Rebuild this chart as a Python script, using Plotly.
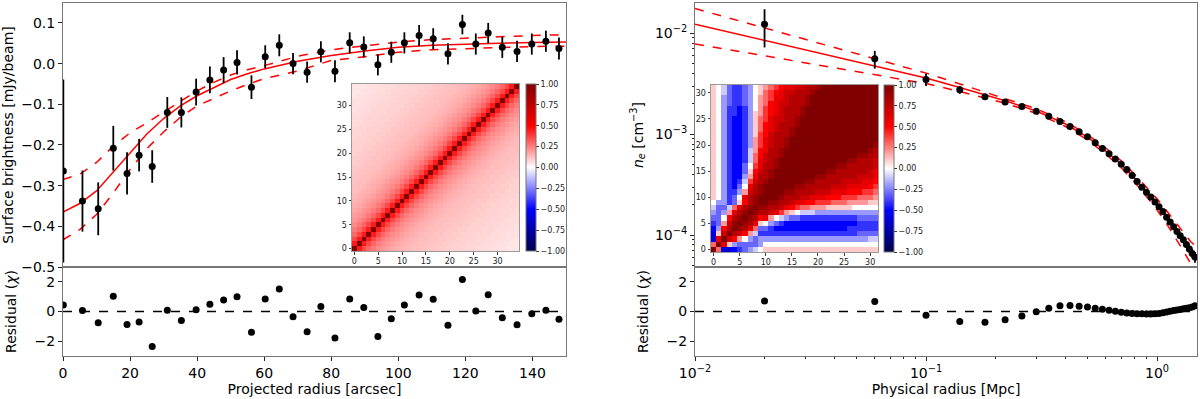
import plotly.graph_objects as go

# ---------------- left panel: surface brightness profile ----------------
sb_x = [0.1, 5.8, 10.5, 15.0, 19.1, 22.7, 26.6, 31.1, 35.3, 39.7, 43.8, 47.9,
        51.9, 56.2, 60.3, 64.5, 68.6, 72.8, 76.9, 81.1, 85.5, 89.7, 93.9, 97.9,
        101.8, 106.2, 110.4, 114.8, 119.1, 123.1, 126.8, 131.0, 135.4, 139.8, 144.0, 147.9]
sb_y = [-0.264, -0.338, -0.357, -0.208, -0.270, -0.225, -0.253, -0.120, -0.120, -0.070,
        -0.040, -0.016, 0.003, -0.058, 0.017, 0.045, 0.000, -0.021, 0.029, -0.019,
        0.051, 0.041, -0.003, 0.028, 0.051, 0.069, 0.061, 0.024, 0.096, 0.048,
        0.075, 0.040, 0.030, 0.048, 0.055, 0.037]
sb_err = [0.225, 0.075, 0.065, 0.055, 0.052, 0.040, 0.040, 0.038, 0.037, 0.033,
          0.033, 0.032, 0.030, 0.029, 0.028, 0.027, 0.026, 0.026, 0.026, 0.027,
          0.026, 0.026, 0.026, 0.026, 0.026, 0.026, 0.026, 0.026, 0.024, 0.026,
          0.025, 0.026, 0.026, 0.026, 0.026, 0.027]
sb_resid = [0.44, 0.07, -0.76, 1.02, -0.87, -0.71, -2.36, 0.09, -0.60, 0.11, 0.49, 0.78,
            1.00, -1.40, 0.84, 1.51, -0.36, -1.36, 0.33, -1.78, 0.84, 0.27, -1.69, -0.49,
            0.44, 1.11, 0.82, -0.93, 2.16, 0.04, 1.13, -0.42, -0.89, -0.16, 0.09, -0.53]

sb_model_x = [0, 5, 10, 15, 20, 25, 30, 35, 40, 45, 50, 55, 60, 70, 80, 90, 100,
              110, 120, 130, 140, 150]
sb_model = [-0.365, -0.344, -0.313, -0.266, -0.219, -0.173, -0.135, -0.104, -0.079,
            -0.058, -0.039, -0.025, -0.013, 0.006, 0.020, 0.031, 0.040, 0.045,
            0.048, 0.050, 0.052, 0.053]
sb_upper = [-0.285, -0.272, -0.243, -0.203, -0.170, -0.146, -0.119, -0.092, -0.067,
            -0.046, -0.028, -0.015, -0.005, 0.018, 0.034, 0.044, 0.053, 0.059,
            0.063, 0.066, 0.069, 0.071]
sb_lower = [-0.433, -0.408, -0.371, -0.318, -0.260, -0.209, -0.168, -0.132, -0.104,
            -0.086, -0.067, -0.051, -0.037, -0.018, 0.008, 0.017, 0.028, 0.034,
            0.037, 0.040, 0.042, 0.043]

# correlation vs. index offset (band of the left covariance inset)
corr_left_profile = [1.0, 0.45, 0.36, 0.30, 0.26, 0.23, 0.21, 0.19, 0.17, 0.16, 0.15,
                     0.14, 0.13, 0.13, 0.12, 0.12, 0.11, 0.11, 0.10, 0.10, 0.09, 0.09,
                     0.09, 0.08, 0.08, 0.08, 0.07, 0.07, 0.07, 0.06, 0.06, 0.06, 0.05,
                     0.05, 0.05]

# ---------------- right panel: density profile ----------------
ne_x = [0.02, 0.06, 0.10, 0.14, 0.18, 0.22, 0.26, 0.30, 0.34, 0.38, 0.42, 0.46,
        0.50, 0.54, 0.58, 0.62, 0.66, 0.70, 0.74, 0.78, 0.82, 0.86, 0.90, 0.94,
        0.98, 1.02, 1.06, 1.10, 1.14, 1.18, 1.22, 1.26, 1.30, 1.34, 1.38, 1.42, 1.46]
ne_y = [1.227e-2, 5.58e-3, 3.49e-3, 2.76e-3, 2.35e-3, 2.09e-3, 1.88e-3, 1.69e-3,
        1.51e-3, 1.34e-3, 1.19e-3, 1.06e-3, 9.44e-4, 8.24e-4, 7.24e-4, 6.42e-4,
        5.69e-4, 5.04e-4, 4.47e-4, 3.90e-4, 3.40e-4, 2.99e-4, 2.67e-4, 2.39e-4,
        2.13e-4, 1.91e-4, 1.72e-4, 1.51e-4, 1.35e-4, 1.21e-4, 1.09e-4, 9.85e-5,
        8.99e-5, 8.09e-5, 7.28e-5, 6.59e-5, 6.07e-5]
ne_relerr = [0.41, 0.20, 0.14, 0.09, 0.06, 0.05, 0.045, 0.04, 0.04, 0.04, 0.04, 0.04,
             0.04, 0.04, 0.04, 0.04, 0.04, 0.04, 0.04, 0.04, 0.04, 0.04, 0.04, 0.045,
             0.045, 0.045, 0.05, 0.05, 0.05, 0.055, 0.055, 0.06, 0.06, 0.07, 0.08,
             0.10, 0.12]
ne_resid = [0.70, 0.68, -0.25, -0.68, -0.72, -0.55, -0.30, -0.02, 0.22, 0.38, 0.40, 0.35,
            0.30, 0.22, 0.15, 0.08, 0.02, -0.05, -0.10, -0.13, -0.15, -0.16, -0.17, -0.17,
            -0.16, -0.13, -0.08, -0.03, 0.02, 0.06, 0.10, 0.14, 0.18, 0.22, 0.26, 0.30, 0.38]

ne_model_x = [0.01, 0.02, 0.06, 0.10, 0.14, 0.18, 0.22, 0.30, 0.40, 0.50, 0.60, 0.70,
              0.80, 0.90, 1.00, 1.10, 1.20, 1.30, 1.40, 1.46]
ne_model = [1.23e-2, 8.5e-3, 4.7e-3, 3.6e-3, 2.9e-3, 2.45e-3, 2.15e-3, 1.70e-3, 1.27e-3,
            9.35e-4, 6.8e-4, 5.05e-4, 3.67e-4, 2.70e-4, 2.03e-4, 1.51e-4, 1.14e-4,
            8.7e-5, 6.8e-5, 5.9e-5]
ne_upper = [1.76e-2, 1.13e-2, 5.6e-3, 4.03e-3, 3.15e-3, 2.6e-3, 2.27e-3, 1.79e-3, 1.34e-3,
            9.9e-4, 7.3e-4, 5.45e-4, 4.0e-4, 3.0e-4, 2.3e-4, 1.75e-4, 1.36e-4, 1.07e-4,
            8.6e-5, 7.9e-5]
ne_lower = [7.85e-3, 5.98e-3, 3.89e-3, 3.18e-3, 2.65e-3, 2.3e-3, 2.03e-3, 1.61e-3, 1.2e-3,
            8.8e-4, 6.35e-4, 4.65e-4, 3.35e-4, 2.42e-4, 1.78e-4, 1.30e-4, 9.5e-5, 7.0e-5,
            5.2e-5, 4.6e-5]

# right inset correlation matrix, lower triangle read row by row;
# letter index in LEVELS -> value -1.0 + 0.1 * index
LEVELS = "abcdefghijklmnopqrstu"
corr_right_rows = [
    "u",
    "nu",
    "equ",
    "elru",
    "fipsu",
    "ghmrtu",
    "hhkpstu",
    "ihimqstu",
    "jhhjnqstu",
    "kiighlpstu",
    "lkighkqstuu",
    "lkiggimrstuu",
    "lkigfhkqstuuu",
    "lkigfgjorstuuu",
    "lkigffimqsstuuu",
    "lkigffhlprstuuuu",
    "lkigffhkoqsstuuuu",
    "lkigffgjnqrstuuuuu",
    "lkigffgjnprsstuuuuu",
    "lkigffgjmpqsstuuuuuu",
    "lkigffgimoqrsstuuuuuu",
    "lkigffgimoqrsstuuuuuuu",
    "lkigffgiloprssstuuuuuuu",
    "lkigffgilnpqrsstuuuuuuuu",
    "lkigffgilnpqrssstuuuuuuuu",
    "lkigffgilnoqrrsstuuuuuuuuu",
    "lkiggfgilmopqrssstuuuuuuuuu",
    "lkiggfgikmopqrssstuuuuuuuuuu",
    "lkihgghikmnpqrrssstuuuuuuuuuu",
    "lkihgghikmnoqqrssstuuuuuuuuuuu",
    "lkjhgghiklnopqrrssstuuuuuuuuuuu",
    "lkjhgghiklmnopqqrrsstuuuuuuuuuuu",
]

RES_RANGE = [-3, 3]
FONT = "DejaVu Sans"
W, H = 1200, 399
SEISMIC = [[0.0, "rgb(0,0,77)"], [0.25, "rgb(0,0,255)"], [0.5, "rgb(255,255,255)"],
           [0.75, "rgb(255,0,0)"], [1.0, "rgb(128,0,0)"]]


def px_x(a, b):
    return [a / W, b / W]


def px_y(top, bottom):
    return [1 - bottom / H, 1 - top / H]


# build matrices from the read tables
n_l = len(corr_left_profile)
corr_left = [[corr_left_profile[abs(i - j)] for j in range(n_l)] for i in range(n_l)]

n_r = len(corr_right_rows)
corr_right = [[0.0] * n_r for _ in range(n_r)]
for i, row in enumerate(corr_right_rows):
    row = row.ljust(i + 1, row[-1])
    for j, ch in enumerate(row[:i + 1]):
        v = -1.0 + 0.1 * LEVELS.index(ch)
        corr_right[i][j] = v
        corr_right[j][i] = v

fig = go.Figure()

red_line = dict(color="red", width=1.5)
red_dash = dict(color="red", width=1.5, dash="dash")

# left main
fig.add_trace(go.Scatter(x=sb_model_x, y=sb_upper, mode="lines", line=red_dash,
                         xaxis="x", yaxis="y"))
fig.add_trace(go.Scatter(x=sb_model_x, y=sb_lower, mode="lines", line=red_dash,
                         xaxis="x", yaxis="y"))
fig.add_trace(go.Scatter(x=sb_model_x, y=sb_model, mode="lines", line=red_line,
                         xaxis="x", yaxis="y"))
fig.add_trace(go.Scatter(x=sb_x, y=sb_y, mode="markers",
                         marker=dict(color="black", size=7),
                         error_y=dict(type="data", array=sb_err, color="black",
                                      thickness=1.8, width=0),
                         xaxis="x", yaxis="y"))
# left residual
fig.add_trace(go.Scatter(x=[0, 150], y=[0, 0], mode="lines",
                         line=dict(color="black", width=1.5, dash="dash"),
                         xaxis="x2", yaxis="y2"))
fig.add_trace(go.Scatter(x=sb_x, y=sb_resid, mode="markers",
                         marker=dict(color="black", size=7), xaxis="x2", yaxis="y2"))

# right main
fig.add_trace(go.Scatter(x=ne_model_x, y=ne_upper, mode="lines", line=red_dash,
                         xaxis="x3", yaxis="y3"))
fig.add_trace(go.Scatter(x=ne_model_x, y=ne_lower, mode="lines", line=red_dash,
                         xaxis="x3", yaxis="y3"))
fig.add_trace(go.Scatter(x=ne_model_x, y=ne_model, mode="lines", line=red_line,
                         xaxis="x3", yaxis="y3"))
fig.add_trace(go.Scatter(x=ne_x, y=ne_y, mode="markers",
                         marker=dict(color="black", size=7),
                         error_y=dict(type="data", array=[y * e for y, e in zip(ne_y, ne_relerr)],
                                      color="black", thickness=1.8, width=0),
                         xaxis="x3", yaxis="y3"))
# right residual
fig.add_trace(go.Scatter(x=[0.01, 1.5], y=[0, 0], mode="lines",
                         line=dict(color="black", width=1.5, dash="dash"),
                         xaxis="x4", yaxis="y4"))
fig.add_trace(go.Scatter(x=ne_x, y=ne_resid, mode="markers",
                         marker=dict(color="black", size=7), xaxis="x4", yaxis="y4"))

cb_ticks = [1.0, 0.75, 0.5, 0.25, 0.0, -0.25, -0.5, -0.75, -1.0]
cb_text = [("%.2f" % v).replace("-", "\u2212") for v in cb_ticks]


def colorbar(x0, top, bottom):
    return dict(x=x0 / W, xanchor="left", y=1 - (top + bottom) / 2 / H, yanchor="middle",
                len=(bottom - top) / H, lenmode="fraction", thickness=10,
                thicknessmode="pixels", xpad=0, ypad=0, outlinecolor="#777",
                outlinewidth=1, ticks="outside", ticklen=3, tickcolor="#333",
                tickvals=cb_ticks, ticktext=cb_text,
                tickfont=dict(size=8, color="#222", family=FONT))


fig.add_trace(go.Heatmap(z=corr_left, colorscale=SEISMIC, zmin=-1, zmax=1,
                         colorbar=colorbar(526, 84, 251), xaxis="x5", yaxis="y5"))
fig.add_trace(go.Heatmap(z=corr_right, colorscale=SEISMIC, zmin=-1, zmax=1,
                         colorbar=colorbar(884, 85, 252), xaxis="x6", yaxis="y6"))

frame = dict(showline=True, mirror=True, linecolor="#777", linewidth=1,
             showgrid=False, zeroline=False, ticks="outside", ticklen=4,
             tickwidth=1, tickcolor="#222", automargin=False,
             tickfont=dict(size=14, color="black", family=FONT))
inset = dict(showline=True, mirror=True, linecolor="#999", linewidth=1,
             showgrid=False, zeroline=False, ticks="outside", ticklen=2.5,
             tickcolor="#444", tickvals=[0, 5, 10, 15, 20, 25, 30], automargin=False,
             tickfont=dict(size=8, color="#222", family=FONT))


def minor_log(exps):
    return [m * 10.0 ** e for e in exps for m in range(2, 10)]


left_x = px_x(63, 566)
right_x = px_x(695, 1197)
main_y = px_y(3, 267)
res_y = px_y(267, 356)
title_font = dict(size=14, color="black", family=FONT)

fig.update_layout(
    width=W, height=H, margin=dict(l=0, r=0, t=0, b=0, autoexpand=False),
    paper_bgcolor="white", plot_bgcolor="white", showlegend=False,
    font=dict(family=FONT, color="black"),
    xaxis=dict(frame, domain=left_x, range=[0, 150], showticklabels=False, ticks="",
               anchor="y"),
    yaxis=dict(frame, domain=main_y, range=[-0.5, 0.149], anchor="x",
               tickvals=[-0.5, -0.4, -0.3, -0.2, -0.1, 0.0, 0.1], tickformat=".1f",
               title=dict(text="Surface brightness [mJy/beam]", font=title_font,
                          standoff=6)),
    xaxis2=dict(frame, domain=left_x, range=[0, 150], anchor="y2",
                tickvals=[0, 20, 40, 60, 80, 100, 120, 140],
                title=dict(text="Projected radius [arcsec]", font=title_font, standoff=4)),
    yaxis2=dict(frame, domain=res_y, range=RES_RANGE, anchor="x2", tickvals=[-2, 0, 2],
                title=dict(text="Residual (<i>χ</i>)", font=title_font, standoff=14)),
    xaxis3=dict(frame, domain=right_x, type="log", range=[-2, 0.173], anchor="y3",
                showticklabels=False, ticks=""),
    yaxis3=dict(frame, domain=main_y, type="log", range=[-4.315, -1.70], anchor="x3",
                tickvals=[1e-4, 1e-3, 1e-2],
                ticktext=["10<sup>\u22124</sup>", "10<sup>\u22123</sup>", "10<sup>\u22122</sup>"],
                minor=dict(ticks="outside", ticklen=2, tickcolor="#222",
                           tickmode="array", tickvals=minor_log([-5, -4, -3, -2])),
                title=dict(text="<i>n<sub>e</sub></i> [cm<sup>\u22123</sup>]",
                           font=title_font, standoff=8)),
    xaxis4=dict(frame, domain=right_x, type="log", range=[-2, 0.173], anchor="y4",
                tickvals=[1e-2, 1e-1, 1],
                ticktext=["10<sup>\u22122</sup>", "10<sup>\u22121</sup>", "10<sup>0</sup>"],
                minor=dict(ticks="outside", ticklen=2, tickcolor="#222",
                           tickmode="array", tickvals=minor_log([-2, -1, 0])),
                title=dict(text="Physical radius [Mpc]", font=title_font, standoff=4)),
    yaxis4=dict(frame, domain=res_y, range=RES_RANGE, anchor="x4", tickvals=[-2, 0, 2],
                title=dict(text="Residual (<i>χ</i>)", font=title_font, standoff=14)),
    xaxis5=dict(inset, domain=px_x(352, 519), range=[-0.5, n_l - 0.5], anchor="y5"),
    yaxis5=dict(inset, domain=px_y(84, 251), range=[-0.5, n_l - 0.5], anchor="x5"),
    xaxis6=dict(inset, domain=px_x(711, 878), range=[-0.5, n_r - 0.5], anchor="y6"),
    yaxis6=dict(inset, domain=px_y(85, 252), range=[-0.5, n_r - 0.5], anchor="x6"),
)

# the page body has a default margin; remove it so the figure fills the window
fig.write_html("out.html", config={"displayModeBar": False},
               post_script="document.body.style.margin='0';")
